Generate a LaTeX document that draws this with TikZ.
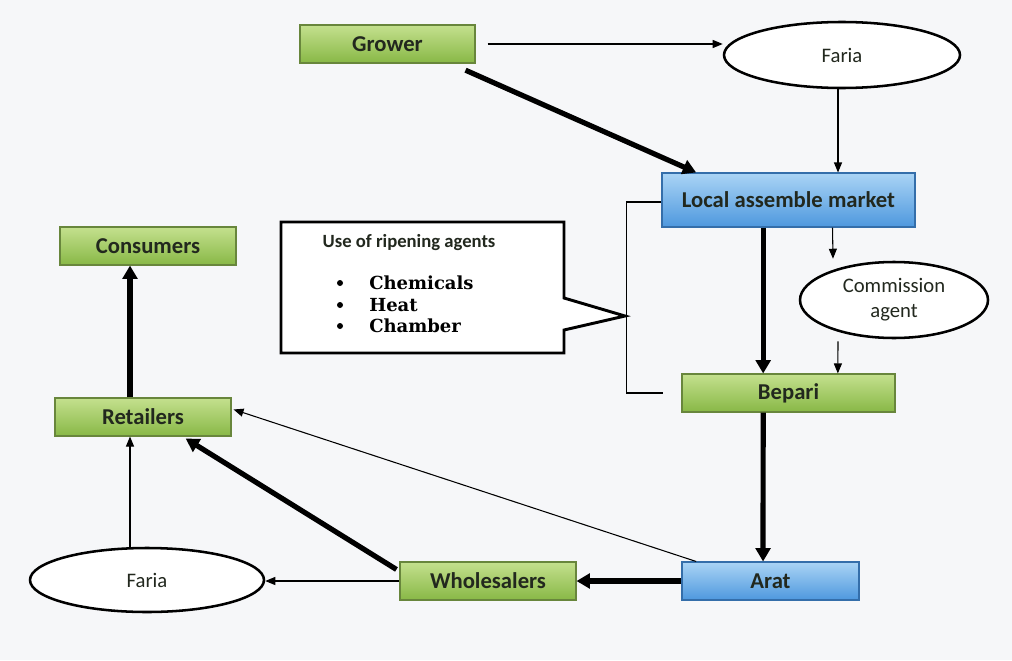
\documentclass[tikz,border=0pt]{standalone}
\usepackage{fontspec}
\setmainfont{Carlito}
\newfontfamily\serifb{DejaVu Serif}
\usetikzlibrary{arrows.meta,shapes.geometric,calc}
\definecolor{bgc}{RGB}{246,247,249}
\definecolor{gtop}{RGB}{196,224,142}
\definecolor{gbot}{RGB}{136,184,70}
\definecolor{gline}{RGB}{104,134,60}
\definecolor{btop}{RGB}{170,212,245}
\definecolor{bbot}{RGB}{78,152,222}
\definecolor{bline}{RGB}{52,110,170}
\definecolor{txt}{RGB}{34,40,30}
\tikzset{
  greenbox/.style={rectangle, draw=gline, line width=0.8pt, top color=gtop, bottom color=gbot,
    text=txt, font=\fontsize{17}{20}\selectfont\bfseries, inner sep=0pt},
  bluebox/.style={rectangle, draw=bline, line width=0.8pt, top color=btop, bottom color=bbot,
    text=txt, font=\fontsize{17}{20}\selectfont\bfseries, inner sep=0pt},
  oval/.style={ellipse, draw=black, line width=1.9pt, fill=white, inner sep=0pt,
    text=txt, font=\fontsize{15.5}{18.75}\selectfont, align=center},
  thinarrow/.style={draw=black, line width=0.8pt, -{Triangle[length=7.5pt,width=6pt]}},
  thickarrow/.style={draw=black, line width=3.9pt, -{Triangle[length=10pt,width=11pt]}},
  bullettxt/.style={anchor=base west, font=\serifb\fontsize{13.5}{16}\selectfont\bfseries, text=black, inner sep=0pt},
  bulletdot/.style={circle, fill=black, minimum size=4.5pt, inner sep=0pt}
}
\begin{document}
\begin{tikzpicture}[x=0.75pt,y=-0.75pt]
\fill[bgc] (0,0) rectangle (1012,660);
\useasboundingbox (0,0) rectangle (1012,660);

% nodes
\node[greenbox, minimum width=131.25pt, minimum height=28.5pt] (grower) at (387.5,44) {Grower};
\node[oval, minimum width=177pt, minimum height=49.5pt] (faria1) at (842,55) {Faria};
\node[bluebox, minimum width=189.75pt, minimum height=40.5pt] (lam) at (788.5,200) {Local assemble market};
\node[greenbox, minimum width=132pt, minimum height=28.5pt] (consumers) at (148,246) {Consumers};
\node[oval, minimum width=141pt, minimum height=57pt] (commission) at (894,300) {Commission\\agent};
\node[greenbox, minimum width=159.75pt, minimum height=28.5pt] (bepari) at (788.5,393) {Bepari};
\node[greenbox, minimum width=132pt, minimum height=28.5pt] (retailers) at (143,417) {Retailers};
\node[bluebox, minimum width=132.75pt, minimum height=28.5pt] (arat) at (770.5,581) {Arat};
\node[greenbox, minimum width=132pt, minimum height=28.5pt] (wholesalers) at (488,581) {Wholesalers};
\node[oval, minimum width=175.5pt, minimum height=48pt] (faria2) at (147,580) {Faria};

% callout
\draw[line width=2.2pt, fill=white, line join=miter] (281,222) -- (564,222) -- (564,298) -- (625,316)
  -- (564,330) -- (564,353) -- (281,353) -- cycle;
\node[text=txt, font=\fontsize{14}{16}\selectfont\bfseries] (ctitle) at (409,243) {Use of ripening agents};
\node[bulletdot] (b1) at (340,283) {};
\node[bulletdot] (b2) at (340,305) {};
\node[bulletdot] (b3) at (340,326) {};
\node[bullettxt] (t1) at (369,289) {Chemicals};
\node[bullettxt] (t2) at (369,311) {Heat};
\node[bullettxt] (t3) at (369,332) {Chamber};

% bracket
\draw[line width=0.8pt] ($(lam.west)+(0,-1.5pt)$) -- ++(-26.25pt,0) coordinate (brtop)
  -- (brtop |- bepari.west) -- ($(bepari.west)+(-14pt,0)$);

% connectors
\coordinate (fs) at ($(faria1.south)+(-3pt,0)$);
\draw[thinarrow, shorten <=9pt] (grower.east) -- (grower.east -| faria1.west);
\draw[thickarrow] ($(grower.south east)+(-7.5pt,-5pt)$) -- ($(lam.north west)+(26pt,0)$);
\draw[thinarrow] (fs) -- (fs |- lam.north);
\draw[thickarrow] ($(lam.south)+(-19pt,0)$) -- ($(bepari.north)+(-19pt,0)$);
\draw[thinarrow] ($(lam.south)+(33pt,0)$) -- ($(commission.north)+(-45.75pt,1.5pt)$);
\draw[thinarrow] ($(commission.south)+(-42pt,-1.5pt)$) -- ($(bepari.north)+(37pt,0)$);
\draw[thickarrow] ($(bepari.south)+(-19pt,0)$) -- ($(arat.north)+(-5.6pt,0)$);
\draw[thickarrow] (arat.west) -- (wholesalers.east);
\draw[thinarrow] ($(arat.north west)+(11pt,0)$) -- ($(retailers.north east)+(1.5pt,-9pt)$);
\draw[thickarrow] ($(wholesalers.north west)+(-2.25pt,-6pt)$) -- ($(retailers.south)+(32pt,-1.5pt)$);
\draw[thinarrow] (wholesalers.west) -- (wholesalers.west -| faria2.east);
\draw[thinarrow] ($(faria2.north)+(-12.75pt,0)$) -- ($(retailers.south)+(-9.75pt,0)$);
\draw[thickarrow] ($(retailers.north)+(-9.75pt,0)$) -- ($(consumers.south)+(-13.5pt,0)$);
\end{tikzpicture}
\end{document}
